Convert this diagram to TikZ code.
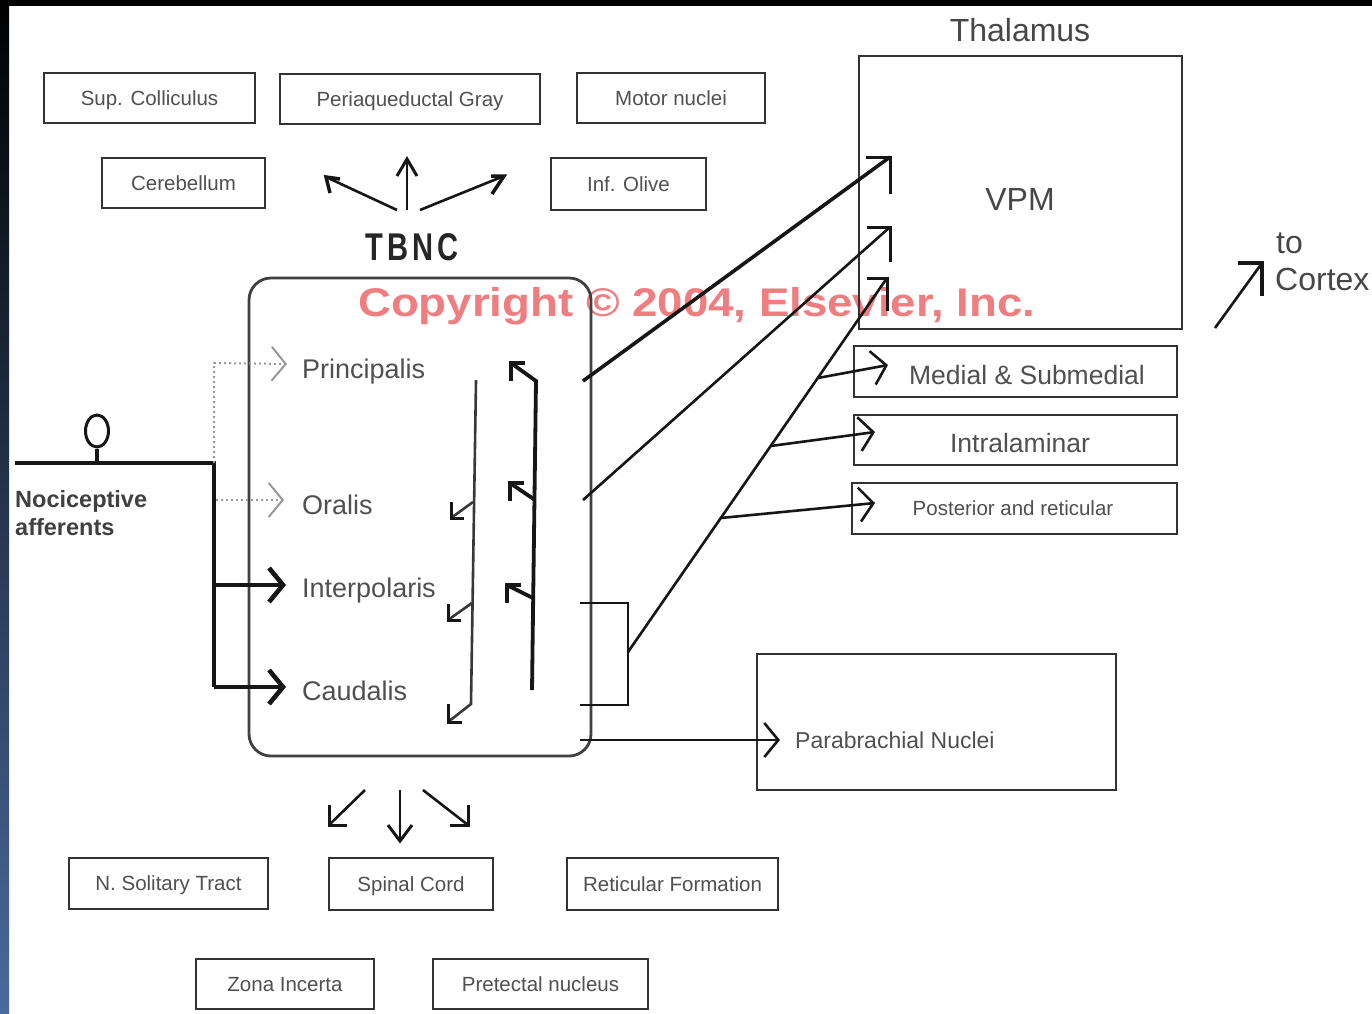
\documentclass[tikz,border=0pt]{standalone}
\usepackage{graphicx}
\usepackage{fontspec}
\setmainfont{Liberation Sans}
\usetikzlibrary{arrows.meta,calc,shapes.geometric}
\newcommand\setfs[1]{\fontsize{#1pt}{#1pt}\selectfont}
\definecolor{wm}{RGB}{240,125,128}
\definecolor{edgeblue}{RGB}{74,106,156}
\definecolor{ink}{RGB}{22,22,22}
\definecolor{txt}{RGB}{80,80,80}
\tikzset{
  chev/.tip={Straight Barb[length=14pt,width=34pt]},
  box/.style={draw=black!80, line width=2.6pt, text=txt, inner sep=0pt,
    font=\setfs{20.5}, text height=14.7pt, text depth=0pt},
  big/.style={text=black!72, inner sep=0pt, font=\setfs{32}},
  mid/.style={text=txt, inner sep=0pt, font=\setfs{26.5}},
  small/.style={text=txt, inner sep=0pt, font=\setfs{20.5}},
  sub/.style={text=txt, inner sep=0pt, font=\setfs{27}},
  noc/.style={text=black!75, inner sep=0pt, font=\bfseries\setfs{23.5}},
  ln/.style={draw=ink, line width=2.6pt},
  thick ln/.style={draw=ink, line width=3.6pt},
  barb/.style={draw=ink, line width=3pt, line join=miter},
  aff/.style={draw=ink, line width=3.6pt},
  affb/.style={draw=ink, line width=4.6pt},
  dotln/.style={draw=black!40, line width=2pt, dash pattern=on 2pt off 3pt},
  descl/.style={draw=black!78, line width=2.6pt},
  ascl/.style={draw=ink, line width=3.8pt},
}
\begin{document}
\begin{tikzpicture}[x=1pt,y=-1pt]
\useasboundingbox (0,0) rectangle (1372,1013);
\fill[white] (0,0) rectangle (1372,1013);

% watermark (under everything)
\node[inner sep=0pt, anchor=base west, text=wm] (wmk) at (358,316)
  {\resizebox{677pt}{29pt}{\bfseries Copyright © 2004, Elsevier, Inc.}};

% ---------- top boxes ----------
\node[box, minimum width=211pt, minimum height=50pt] (sup) at (149.5,98) {Sup. Colliculus};
\node[box, minimum width=260pt, minimum height=50pt] (pag) at (410,99) {Periaqueductal Gray};
\node[box, minimum width=188pt, minimum height=50pt] (motor) at (671,98) {Motor nuclei};
\node[box, minimum width=163pt, minimum height=50pt] (cereb) at (183.5,183) {Cerebellum};
\node[box, minimum width=155pt, minimum height=52pt] (olive) at (628.5,184) {Inf. Olive};

% ---------- bottom boxes ----------
\node[box, minimum width=199pt, minimum height=51pt] (nts) at (168.5,883.5) {N. Solitary Tract};
\node[box, minimum width=164pt, minimum height=52pt] (spinal) at (411,884) {Spinal Cord};
\node[box, minimum width=211pt, minimum height=52pt] (retic) at (672.5,884) {Reticular Formation};
\node[box, minimum width=178pt, minimum height=50pt] (zona) at (285,984) {Zona Incerta};
\node[box, minimum width=215pt, minimum height=50pt] (pretect) at (540.5,984) {Pretectal nucleus};

% ---------- thalamus ----------
\node[big, anchor=base] (thal) at (1020,41) {Thalamus};
\node[box, minimum width=323pt, minimum height=273pt] (vpmbox) at (1020.5,192.5) {};
\node[big, anchor=base] (vpm) at (1020,210) {VPM};
\node[box, minimum width=323pt, minimum height=51pt] (medbox) at (1015.5,371.5) {};
\node[mid, anchor=base] (med) at (1027,384) {Medial \& Submedial};
\node[box, minimum width=323pt, minimum height=50pt] (intrabox) at (1015.5,440) {};
\node[mid, anchor=base] (intra) at (1020,452) {Intralaminar};
\node[box, minimum width=325pt, minimum height=51pt] (postbox) at (1014.5,508.5) {};
\node[small, anchor=base] (post) at (1013,515) {Posterior and reticular};

% ---------- parabrachial ----------
\node[box, minimum width=359pt, minimum height=136pt] (parabox) at (936.5,722) {};
\node[small, font=\setfs{23}, anchor=base west] (para) at (795,748) {Parabrachial Nuclei};

% ---------- cortex ----------
\node[big, anchor=base west] (to) at (1276,253) {to};
\node[big, anchor=base west] (cortex) at (1275,290) {Cortex};

% ---------- TBNC ----------
\node[inner sep=0pt, anchor=base, text=black!85] (tbnclbl) at (412,260)
  {\resizebox{94pt}{27pt}{\bfseries T\kern1.5pt B\kern1.5pt N\kern1.5pt C}};
\node[draw=black!75, line width=2.8pt, rounded corners=22pt,
  minimum width=342pt, minimum height=478pt] (tbnc) at (420,517) {};

\node[sub, anchor=base west] (princ) at (302,378) {Principalis};
\node[sub, anchor=base west] (oral) at (302,514) {Oralis};
\node[sub, anchor=base west] (interp) at (302,597) {Interpolaris};
\node[sub, anchor=base west] (caud) at (302,700) {Caudalis};

% ---------- afferents ----------
\node[noc, anchor=base west] (noc1) at (15,507) {Nociceptive};
\node[noc, anchor=base west] (noc2) at (15,535) {afferents};
\node[ellipse, draw=ink, line width=3pt, minimum width=23pt, minimum height=32pt, inner sep=0pt] (soma) at (97,431) {};

\coordinate (aff0) at (15,463);
\coordinate (stem) at (97,463);
\coordinate (j1) at (214,463);
\coordinate (j2) at (214,585);
\coordinate (j3) at (214,687);
\coordinate (d1) at (214,363);
\coordinate (jo) at (216,500);
\coordinate (princtip) at (287,364);
\coordinate (oraltip) at (284,500);
\coordinate (interptip) at (286,585);
\coordinate (caudtip) at (286,687);

\draw[aff] (soma.south) -- (stem);
\draw[aff] (aff0) -- (j1) -- (j3);
\draw[affb, -chev] (j2) -- (interptip);
\draw[affb, -chev] (j3) -- (caudtip);
\draw[dotln, -chev] (j1) -- (d1) -- (princtip);
\draw[dotln, -chev] (jo) -- (oraltip);

% ---------- arrows above TBNC label ----------
\coordinate (ua) at (397,210); \coordinate (uat) at (326,177);
\coordinate (ub) at (407,210); \coordinate (ubt) at (407,159);
\coordinate (uc) at (420,210); \coordinate (uct) at (504,176);
\draw[ln] (ua) -- (uat);
\draw[barb, line width=3.5pt] ($(uat)+(14,2)$) -- (uat) -- ++(4,16);
\draw[ln] (ub) -- (ubt);
\draw[barb] ($(ubt)+(-10,17)$) -- (ubt) -- ++(10,17);
\draw[ln] (uc) -- (uct);
\draw[barb, line width=3.5pt] ($(uct)+(-13,0)$) -- (uct) -- ++(-12,18);

% ---------- arrows below TBNC ----------
\coordinate (da) at (365,790); \coordinate (dat) at (329,825);
\coordinate (db) at (400,790); \coordinate (dbt) at (400,841);
\coordinate (dc) at (423,790); \coordinate (dct) at (468,825);
\draw[ln] (da) -- (dat);
\draw[barb] ($(dat)+(0,-20)$) -- (dat) -- ++(18,0);
\draw[ln] (db) -- (dbt);
\draw[barb] ($(dbt)+(-12,-16)$) -- (dbt) -- ++(12,-16);
\draw[ln] (dc) -- (dct);
\draw[barb] ($(dct)+(0,-20)$) -- (dct) -- ++(-18,0);

% ---------- descending pathway ----------
\coordinate (dd0) at (476,380);
\coordinate (dd1) at (473,502); \coordinate (ddt1) at (451,518);
\coordinate (dd2) at (472,603); \coordinate (ddt2) at (448,620);
\coordinate (dd3) at (471,704); \coordinate (ddt3) at (448,722);
\draw[descl] (dd0) -- (dd3) -- (ddt3);
\draw[descl] (dd1) -- (ddt1);
\draw[descl] (dd2) -- (ddt2);
\draw[barb, line width=3pt] ($(ddt1)+(0,-16)$) -- (ddt1) -- ++(13,0);
\draw[barb, line width=3pt] ($(ddt2)+(0,-16)$) -- (ddt2) -- ++(13,0);
\draw[barb, line width=3pt] ($(ddt3)+(0,-18)$) -- (ddt3) -- ++(14,0);

% ---------- ascending pathway ----------
\coordinate (aa0) at (532,690);
\coordinate (aa1) at (536,381); \coordinate (aat1) at (511,363);
\coordinate (aa2) at (535,500); \coordinate (aat2) at (510,483);
\coordinate (aa3) at (533,598); \coordinate (aat3) at (507,585);
\draw[ascl] (aa0) -- (aa1) -- (aat1);
\draw[ascl] (aa2) -- (aat2);
\draw[ascl] (aa3) -- (aat3);
\draw[barb, line width=4pt] ($(aat1)+(14,0)$) -- (aat1) -- ++(0,18);
\draw[barb, line width=4pt] ($(aat2)+(14,0)$) -- (aat2) -- ++(0,18);
\draw[barb, line width=4pt] ($(aat3)+(14,0)$) -- (aat3) -- ++(0,18);

% ---------- projections to thalamus ----------
\coordinate (c1s) at (583,381); \coordinate (c1t) at (890,157);
\coordinate (c2s) at (583,500); \coordinate (c2t) at (890,227);
\coordinate (br1) at (580,603); \coordinate (br2) at (628,603);
\coordinate (br3) at (628,705); \coordinate (br4) at (580,705);
\coordinate (c3s) at (628,652); \coordinate (c3t) at (887,278);
\draw[thick ln] (c1s) -- (c1t);
\draw[barb] ($(c1t)+(-24,0)$) -- (c1t) -- ++(0,37);
\draw[ln] (c2s) -- (c2t);
\draw[barb] ($(c2t)+(-23,0)$) -- (c2t) -- ++(0,35);
\draw[ln] (br1) -- (br2) -- (br3) -- (br4);
\draw[ln] (c3s) -- (c3t);
\draw[barb] ($(c3t)+(-20,0)$) -- (c3t) -- ++(0,33);

\coordinate (m1) at ($(c3s)!0.7326!(c3t)$);
\coordinate (m2) at ($(c3s)!0.5508!(c3t)$);
\coordinate (m3) at ($(c3s)!0.3583!(c3t)$);
\coordinate (medtip) at (888,365);
\coordinate (intratip) at (875,432);
\coordinate (posttip) at (875,503);
\draw[ln, -chev] (m1) -- (medtip);
\draw[ln, -chev] (m2) -- (intratip);
\draw[ln, -chev] (m3) -- (posttip);

% ---------- to parabrachial ----------
\coordinate (pbs) at (580,740); \coordinate (pbtip) at (780,740);
\draw[ln, -chev] (pbs) -- (pbtip);

% ---------- to cortex ----------
\coordinate (cxs) at (1215,328); \coordinate (cxt) at (1262,263);
\draw[ln] (cxs) -- (cxt);
\draw[barb, line width=3.5pt] ($(cxt)+(-24,0)$) -- (cxt) -- ++(0,33);

% ---------- frame strips ----------
\fill[black] (0,0) rectangle (1372,6);
\shade[top color=black, middle color=black!92!edgeblue, bottom color=edgeblue] (0,0) rectangle (9,1013);
\end{tikzpicture}
\end{document}
